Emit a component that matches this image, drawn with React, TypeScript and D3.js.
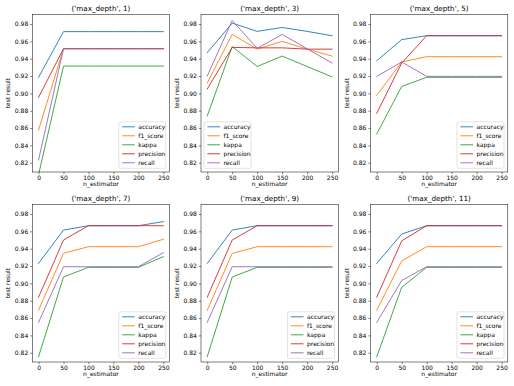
import React, { useEffect, useRef } from "react";
import * as d3 from "d3";

// n_estimator values on the x axis
const estimators = [0, 50, 100, 150, 200, 250];
const metrics = ["accuracy", "f1_score", "kappa", "precision", "recall"];
const colors = ["#1f77b4", "#ff7f0e", "#2ca02c", "#d62728", "#9467bd"];
const depths = [1, 3, 5, 7, 9, 11];

// one array per metric, one row per max_depth
const accuracy = [
  [0.9185, 0.9712, 0.9712, 0.9712, 0.9712, 0.9712],
  [0.947, 0.981, 0.9715, 0.976, 0.9715, 0.9665],
  [0.9377, 0.962, 0.9665, 0.9665, 0.9665, 0.9665],
  [0.923, 0.9615, 0.9665, 0.9665, 0.9665, 0.9712],
  [0.923, 0.9615, 0.9665, 0.9665, 0.9665, 0.9665],
  [0.923, 0.9569, 0.9665, 0.9665, 0.9665, 0.9665],
];
const f1_score = [
  [0.8577, 0.9515, 0.9515, 0.9515, 0.9515, 0.9515],
  [0.912, 0.968, 0.951, 0.96, 0.951, 0.943],
  [0.8977, 0.9362, 0.9423, 0.9423, 0.9423, 0.9423],
  [0.869, 0.9346, 0.9423, 0.9423, 0.9423, 0.9508],
  [0.869, 0.9346, 0.9423, 0.9423, 0.9423, 0.9423],
  [0.869, 0.9259, 0.9423, 0.9423, 0.9423, 0.9423],
];
const kappa = [
  [0.806, 0.9315, 0.9315, 0.9315, 0.9315, 0.9315],
  [0.874, 0.954, 0.931, 0.943, 0.931, 0.919],
  [0.8531, 0.908, 0.9185, 0.9185, 0.9185, 0.9185],
  [0.8154, 0.9073, 0.9185, 0.9185, 0.9185, 0.9308],
  [0.8154, 0.9073, 0.9185, 0.9185, 0.9185, 0.9185],
  [0.8154, 0.8955, 0.9185, 0.9185, 0.9185, 0.9185],
];
const precision = [
  [0.8954, 0.9515, 0.9515, 0.9515, 0.9515, 0.9515],
  [0.905, 0.953, 0.9525, 0.9525, 0.951, 0.951],
  [0.877, 0.935, 0.9665, 0.9665, 0.9665, 0.9665],
  [0.884, 0.95, 0.9665, 0.9665, 0.9665, 0.9665],
  [0.884, 0.95, 0.9665, 0.9665, 0.9665, 0.9665],
  [0.884, 0.949, 0.9665, 0.9665, 0.9665, 0.9665],
];
const recall = [
  [0.8231, 0.9515, 0.9515, 0.9515, 0.9515, 0.9515],
  [0.92, 0.984, 0.952, 0.968, 0.9515, 0.935],
  [0.9196, 0.9362, 0.9196, 0.9196, 0.9196, 0.9196],
  [0.855, 0.9192, 0.9192, 0.9192, 0.9192, 0.9354],
  [0.855, 0.9192, 0.9192, 0.9192, 0.9192, 0.9192],
  [0.855, 0.9033, 0.9192, 0.9192, 0.9192, 0.9192],
];
const series = [accuracy, f1_score, kappa, precision, recall];
const xTicks = [0, 50, 100, 150, 200, 250];
const yTicks = [0.82, 0.84, 0.86, 0.88, 0.9, 0.92, 0.94, 0.96, 0.98];

const W = 514;
const H = 386;
const lefts = [32.3, 201, 370.5];
const tops = [14.3, 204.3];
const pw = 137.3;
const ph = 157.7;
const font = "DejaVu Sans, sans-serif";

function App() {
  const ref = useRef<SVGSVGElement>(null);

  useEffect(() => {
    const svg = d3.select(ref.current);
    svg.selectAll("*").remove();

    depths.forEach((depth, k) => {
      const col = k % 3;
      const row = Math.floor(k / 3);
      const g = svg.append("g")
        .attr("transform", `translate(${lefts[col]},${tops[row]})`);

      const x = d3.scaleLinear().domain([-12.5, 262.5]).range([0, pw]);
      const y = d3.scaleLinear().domain([0.8093, 0.9912]).range([ph, 0]);

      g.append("clipPath").attr("id", "clip" + k)
        .append("rect").attr("width", pw).attr("height", ph);

      const line = d3.line<number>()
        .x((d, i) => x(estimators[i]))
        .y(d => y(d));

      const lines = g.append("g").attr("clip-path", `url(#clip${k})`);
      series.forEach((s, m) => {
        lines.append("path")
          .attr("d", line(s[k]))
          .attr("fill", "none")
          .attr("stroke", colors[m])
          .attr("stroke-width", 0.9)
          .attr("stroke-linejoin", "round")
          .attr("stroke-linecap", "square");
      });

      // axes
      const xAxis = g.append("g")
        .attr("transform", `translate(0,${ph})`)
        .call(d3.axisBottom(x).tickValues(xTicks).tickSize(2.1).tickPadding(2).tickFormat(d3.format("d")));
      const yAxis = g.append("g")
        .call(d3.axisLeft(y).tickValues(yTicks).tickSize(2.1).tickPadding(2).tickFormat(d3.format(".2f")));
      [xAxis, yAxis].forEach(a => {
        a.select(".domain").remove();
        a.selectAll("line").attr("stroke", "#000").attr("stroke-width", 0.5);
        a.selectAll("text").attr("font-family", font).attr("font-size", 6).attr("fill", "#000");
      });

      g.append("rect")
        .attr("width", pw).attr("height", ph)
        .attr("fill", "none").attr("stroke", "#000").attr("stroke-width", 0.5);

      g.append("text")
        .attr("x", pw / 2).attr("y", -3.3)
        .attr("text-anchor", "middle")
        .attr("font-family", font).attr("font-size", 7.2)
        .text(`('max_depth', ${depth})`);

      g.append("text")
        .attr("x", pw / 2).attr("y", ph + 14.3)
        .attr("text-anchor", "middle")
        .attr("font-family", font).attr("font-size", 6)
        .text("n_estimator");

      g.append("text")
        .attr("transform", `translate(${-22},${ph / 2}) rotate(-90)`)
        .attr("text-anchor", "middle")
        .attr("font-family", font).attr("font-size", 6)
        .text("test result");

      // legend
      const lw = 47;
      const lh = 46.5;
      const lx = depth === 3 ? 3 : pw - lw - 3.8;
      const ly = ph - lh - 3.7;
      const leg = g.append("g").attr("transform", `translate(${lx},${ly})`);
      leg.append("rect")
        .attr("width", lw).attr("height", lh).attr("rx", 1.5)
        .attr("fill", "#fff").attr("fill-opacity", 0.8)
        .attr("stroke", "#d0d0d0").attr("stroke-width", 0.6);
      metrics.forEach((name, m) => {
        const cy = 5 + m * 9;
        leg.append("line")
          .attr("x1", 3.4).attr("x2", 16)
          .attr("y1", cy).attr("y2", cy)
          .attr("stroke", colors[m]).attr("stroke-width", 0.9);
        leg.append("text")
          .attr("x", 19.5).attr("y", cy + 2.1)
          .attr("font-family", font).attr("font-size", 6)
          .text(name);
      });
    });
  }, []);

  return (
    <div style={{ position: "absolute", left: 0, top: 0 }}>
      <svg ref={ref} width={W} height={H} style={{ display: "block", background: "#fff" }} />
    </div>
  );
}

export default App;
